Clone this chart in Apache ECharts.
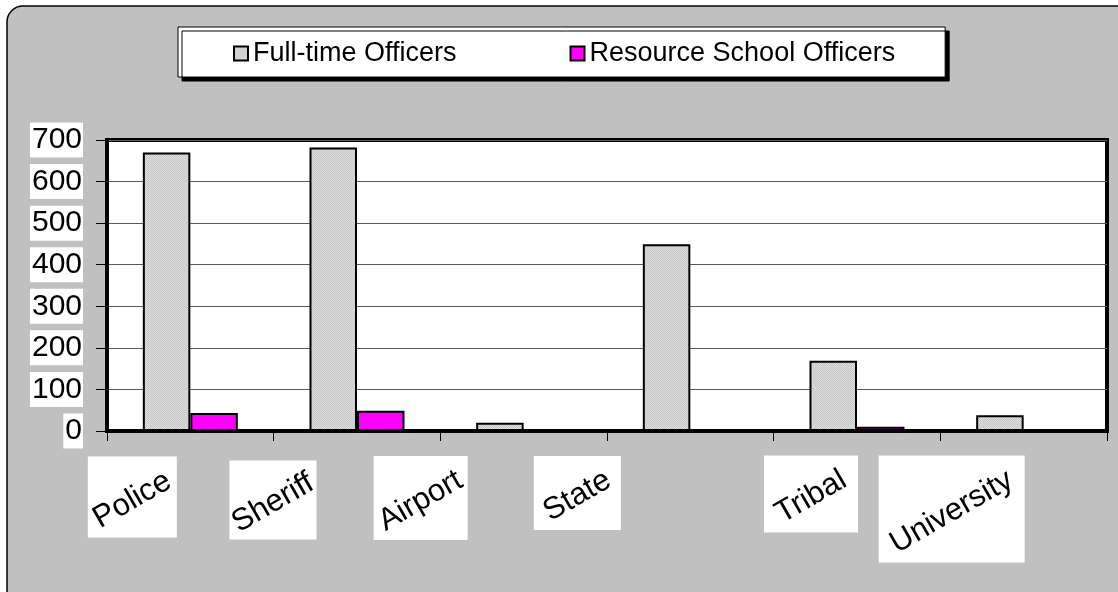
<!DOCTYPE html>
<html>
<head>
<meta charset="utf-8">
<script src="https://cdn.jsdelivr.net/npm/echarts@6/dist/echarts.min.js"></script>
<style>
  html, body { margin: 0; padding: 0; background: #fff; }
  #chart { width: 1118px; height: 592px; }
</style>
</head>
<body>
<div id="chart"></div>
<script>
// data
const categories = ['Police', 'Sheriff', 'Airport', 'State', 'Tribal', 'University'];
const fullTime = [670, 682, 20, 449, 169, 38];
const schoolOfficers = [43, 49, 0, 0, 10, 0];
const seriesNames = ['Full-time Officers', 'Resource School Officers'];
const yMin = 0, yMax = 700, yStep = 100;

// where each slanted x label box sits: [shift from band centre, box centre y, width, height]
const labelBoxes = [
  [-58, 497, 89, 81],
  [-84, 500, 87, 79],
  [-103, 498, 94, 84],
  [-113, 493, 87, 74],
  [-46, 494, 94, 77],
  [-72, 509, 146, 107]
];

// dotted grey fill like the old excel pattern
function dotPattern() {
  const c = document.createElement('canvas');
  c.width = 2; c.height = 2;
  const g = c.getContext('2d');
  g.fillStyle = '#dcdcdc';
  g.fillRect(0, 0, 2, 2);
  g.fillStyle = '#c8c8c8';
  g.fillRect(0, 0, 1, 1);
  g.fillRect(1, 1, 1, 1);
  return c;
}

const font = 'Liberation Sans, Arial, sans-serif';
const chart = echarts.init(document.getElementById('chart'));

chart.setOption({
  animation: false,
  backgroundColor: '#fff',
  legend: {
    left: 178,
    top: 27,
    padding: [13, 50, 10, 55],
    itemGap: 113,
    itemWidth: 14,
    itemHeight: 14,
    icon: 'rect',
    backgroundColor: '#fff',
    borderColor: '#000',
    borderWidth: 1,
    shadowColor: '#000',
    shadowBlur: 0,
    shadowOffsetX: 4,
    shadowOffsetY: 4,
    textStyle: { fontFamily: font, fontSize: 27, color: '#000' },
    data: seriesNames
  },
  grid: {
    left: 107,
    right: 11,
    top: 140,
    bottom: 161,
    show: true,
    backgroundColor: '#fff',
    borderColor: '#000',
    borderWidth: 4
  },
  xAxis: {
    type: 'category',
    data: categories,
    axisLine: { lineStyle: { color: '#000', width: 4 } },
    axisTick: { show: true, length: 10, lineStyle: { color: '#000', width: 1 } },
    axisLabel: { show: false }
  },
  yAxis: {
    type: 'value',
    min: yMin,
    max: yMax,
    interval: yStep,
    axisLine: { show: true, lineStyle: { color: '#000', width: 4 } },
    axisTick: { show: true, length: 11, lineStyle: { color: '#000', width: 1 } },
    splitLine: { lineStyle: { color: '#5a5a5a', width: 1 } },
    axisLabel: {
      margin: 24,
      fontFamily: font,
      fontSize: 30,
      color: '#000',
      backgroundColor: '#fff',
      padding: [3, 1, 2, 2]
    }
  },
  series: [
    {
      name: seriesNames[0],
      type: 'bar',
      data: fullTime,
      barGap: '0%',
      barCategoryGap: '43%',
      itemStyle: {
        color: { image: dotPattern(), repeat: 'repeat' },
        borderColor: '#000',
        borderWidth: 2
      }
    },
    {
      name: seriesNames[1],
      type: 'bar',
      data: schoolOfficers,
      itemStyle: { color: '#ff00ff', borderColor: '#000', borderWidth: 2 }
    }
  ]
});

// slanted category labels in white boxes, placed from the axis scale
const graphics = [{
  type: 'rect',
  z: -10,
  silent: true,
  shape: { x: 7, y: 6, width: 1125, height: 600, r: 16 },
  style: { fill: '#c0c0c0', stroke: '#000', lineWidth: 1.5 }
}];
categories.forEach(function (name, i) {
  const cx = chart.convertToPixel({ xAxisIndex: 0 }, name) + labelBoxes[i][0];
  const cy = labelBoxes[i][1];
  const w = labelBoxes[i][2], h = labelBoxes[i][3];
  graphics.push({
    type: 'rect',
    silent: true,
    z: 5,
    shape: { x: cx - w / 2, y: cy - h / 2, width: w, height: h },
    style: { fill: '#fff' }
  });
  graphics.push({
    type: 'text',
    silent: true,
    z: 6,
    x: cx,
    y: cy + 3,
    rotation: 30 * Math.PI / 180,
    style: {
      text: name,
      fontFamily: font,
      fontSize: 31,
      fill: '#000',
      align: 'center',
      verticalAlign: 'middle'
    }
  });
});
chart.setOption({ graphic: graphics });
</script>
</body>
</html>
